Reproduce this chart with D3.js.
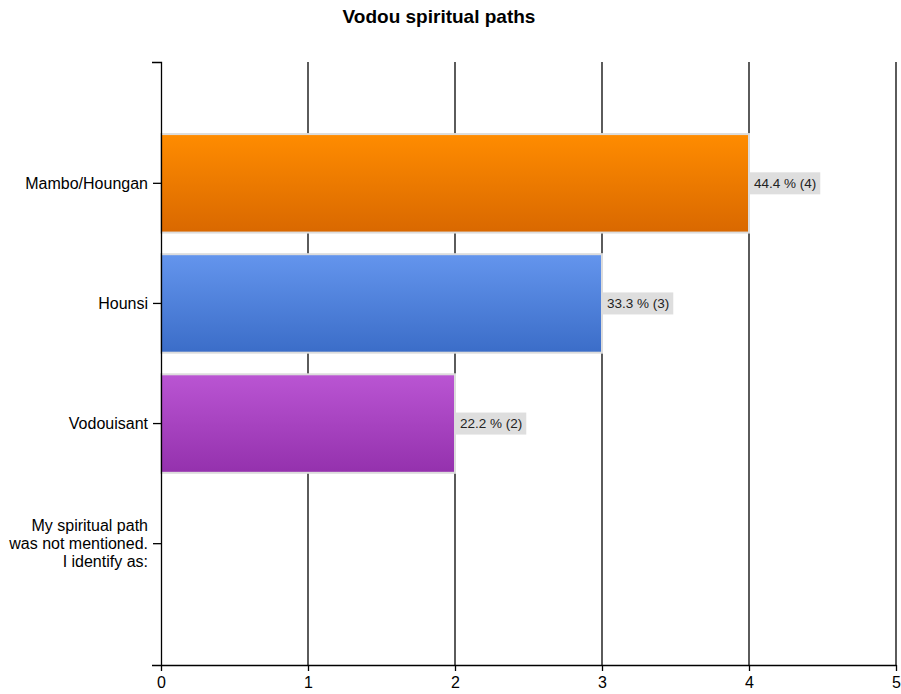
<!DOCTYPE html>
<html>
<head>
<meta charset="utf-8">
<script src="https://cdn.jsdelivr.net/npm/d3@7"></script>
<style>
  body { margin: 0; background: #fff; }
  text { font-family: "Liberation Sans", Arial, sans-serif; fill: #000; }
</style>
</head>
<body>
<script>
var width = 901,
    height = 694,
    margin = { top: 62, right: 5, bottom: 29, left: 161 };

// Chart data
var categories = ["Mambo/Houngan", "Hounsi", "Vodouisant", "My spiritual path|was not mentioned.|I identify as:"];
var counts = [4, 3, 2, 0];
var percents = ["44.4 %", "33.3 %", "22.2 %", "0 %"];
var xTicks = [0, 1, 2, 3, 4, 5];
var barColors = [["#ff8c00", "#d96800"], ["#6495ed", "#3b6dc8"], ["#ba55d3", "#9431ad"], ["#ba55d3", "#9431ad"]];

var svg = d3.select("body").append("svg")
    .attr("width", width)
    .attr("height", height);

// gradients for bars
var defs = svg.append("defs");
barColors.forEach(function (c, i) {
    var g = defs.append("linearGradient")
        .attr("id", "grad" + i)
        .attr("x1", 0).attr("y1", 0).attr("x2", 0).attr("y2", 1);
    g.append("stop").attr("offset", "0%").attr("stop-color", c[0]);
    g.append("stop").attr("offset", "100%").attr("stop-color", c[1]);
});

var x = d3.scaleLinear()
    .domain([0, 5])
    .range([margin.left, width - margin.right]);

var y = d3.scaleBand()
    .domain(categories)
    .range([margin.top, height - margin.bottom])
    .paddingInner(0.18)
    .paddingOuter(0.6);

//Title
svg.append("text")
    .attr("x", 439)
    .attr("y", 23)
    .attr("text-anchor", "middle")
    .style("font-weight", "bold")
    .style("font-size", "19px")
    .text("Vodou spiritual paths");

//Gridlines
svg.append("g")
    .selectAll("line")
    .data(xTicks.slice(1))
    .enter().append("line")
    .attr("x1", function (d) { return x(d); })
    .attr("x2", function (d) { return x(d); })
    .attr("y1", margin.top)
    .attr("y2", height - margin.bottom)
    .attr("stroke", "#333")
    .attr("stroke-width", 1.6);

//Bars
svg.append("g")
    .selectAll("rect")
    .data(categories)
    .enter().append("rect")
    .attr("x", x(0))
    .attr("y", function (d) { return y(d); })
    .attr("width", function (d, i) { return x(counts[i]) - x(0); })
    .attr("height", y.bandwidth())
    .attr("fill", function (d, i) { return "url(#grad" + i + ")"; })
    .attr("stroke", "#dcdcdc")
    .attr("stroke-width", function (d, i) { return counts[i] === 0 ? 3.5 : 2; });

//Value labels
var labels = svg.append("g")
    .selectAll("g")
    .data(categories.slice(0, 3))
    .enter().append("g")
    .attr("transform", function (d, i) {
        return "translate(" + (x(counts[i]) + 1) + "," + (y(d) + y.bandwidth() / 2) + ")";
    });

labels.append("rect")
    .attr("fill", "#dedede");

labels.append("text")
    .attr("x", 4)
    .attr("dy", "0.35em")
    .style("font-size", "13.5px")
    .style("fill", "#222")
    .text(function (d, i) { return percents[i] + " (" + counts[i] + ")"; });

labels.each(function () {
    var g = d3.select(this);
    var w = g.select("text").node().getComputedTextLength();
    g.select("rect")
        .attr("x", 0)
        .attr("y", -11)
        .attr("width", w + 8)
        .attr("height", 22);
});

//Axes
var yAxis = d3.axisLeft(y).tickSize(8).tickSizeOuter(9).tickFormat("");
var yG = svg.append("g")
    .attr("transform", "translate(" + margin.left + ",0)")
    .call(yAxis);
yG.selectAll("path, line").attr("stroke", "#000").attr("stroke-width", 1.3);

yG.selectAll(".tick")
    .append("text")
    .attr("x", -13)
    .attr("text-anchor", "end")
    .style("font-size", "16px")
    .each(function (d) {
        var lines = d.split("|");
        var t = d3.select(this);
        lines.forEach(function (l, i) {
            t.append("tspan")
                .attr("x", -13)
                .attr("dy", i === 0 ? (0.35 - (lines.length - 1) * 0.56) + "em" : "1.12em")
                .text(l);
        });
    });

var xAxis = d3.axisBottom(x).tickValues(xTicks).tickSize(6).tickSizeOuter(0).tickFormat(d3.format("d"));
var xG = svg.append("g")
    .attr("transform", "translate(0," + (height - margin.bottom) + ")")
    .call(xAxis);
xG.select(".domain").attr("stroke", "#000").attr("stroke-width", 1.3);
xG.selectAll("line").attr("stroke", "#000").attr("stroke-width", 1.3);
xG.selectAll("text")
    .attr("y", 12)
    .style("font-size", "16px")
    .style("font-family", "'Liberation Sans', Arial, sans-serif")
    .attr("fill", "#000");
</script>
</body>
</html>
